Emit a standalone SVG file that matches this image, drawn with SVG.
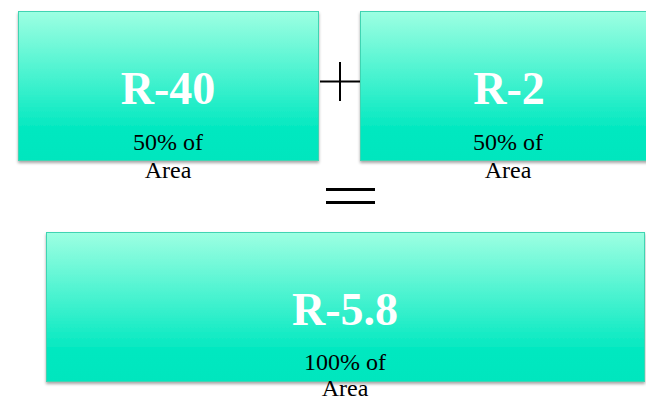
<svg xmlns="http://www.w3.org/2000/svg" width="646" height="401" viewBox="0 0 646 401">
<defs>
<linearGradient id="g" x1="0" y1="0" x2="0" y2="1">
<stop offset="0" stop-color="#9dffe2"/>
<stop offset="0.8" stop-color="#00e8c0"/>
<stop offset="1" stop-color="#00e6be"/>
</linearGradient>
<filter id="sh" x="-5%" y="-5%" width="110%" height="115%">
<feDropShadow dx="0" dy="2" stdDeviation="1.5" flood-color="#000" flood-opacity="0.35"/>
</filter>
<style>
.box{fill:url(#g);stroke:#3fd4b2;stroke-width:1;filter:url(#sh)}
.big{font-family:"Liberation Serif","Times New Roman",serif;font-weight:bold;font-size:46px;fill:#fff;text-anchor:middle}
.lbl{font-family:"Liberation Serif","Times New Roman",serif;font-size:24px;fill:#000;text-anchor:middle}
.op{stroke:#000;fill:none}
</style>
</defs>
<g id="r40">
<rect class="box" x="18.5" y="11.5" width="300" height="149"/>
<text class="big" x="168" y="104">R-40</text>
<text class="lbl" x="168" y="150">50% of</text>
<text class="lbl" x="168" y="178">Area</text>
</g>
<g id="r2">
<rect class="box" x="360.5" y="11.5" width="300" height="149"/>
<text class="big" x="509" y="104">R-2</text>
<text class="lbl" x="508" y="150">50% of</text>
<text class="lbl" x="508" y="178">Area</text>
</g>
<g id="r58">
<rect class="box" x="46.5" y="232.5" width="598" height="149"/>
<text class="big" x="345" y="325">R-5.8</text>
<text class="lbl" x="345" y="370">100% of</text>
<text class="lbl" x="345" y="396">Area</text>
</g>
<g id="connectors">
<path class="op" stroke-width="2" d="M320 81.5H360M340 62V101"/>
<path class="op" stroke-width="3" d="M326 189.5H375M326 202.5H375"/>
</g>
</svg>
